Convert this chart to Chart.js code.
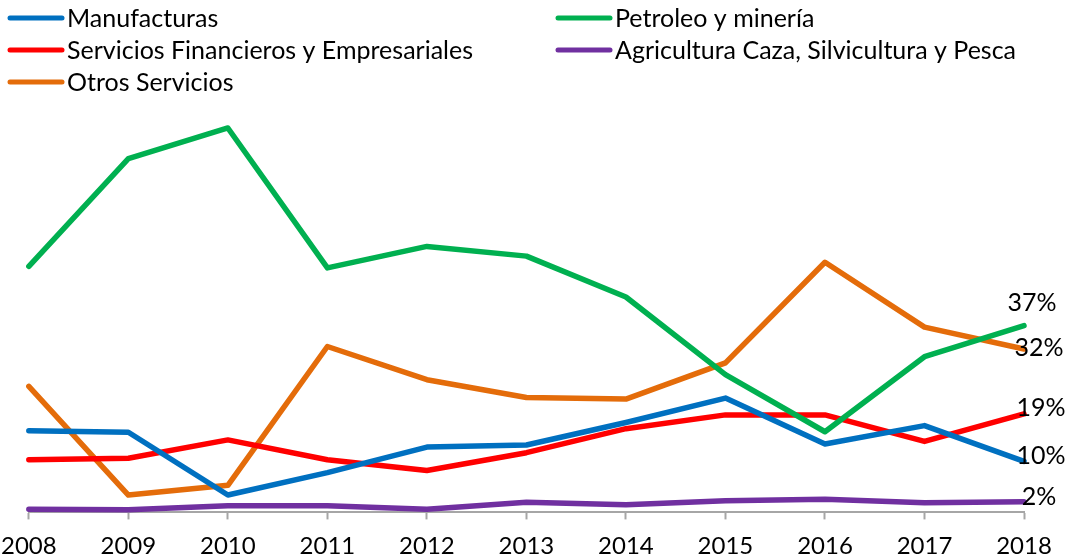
<!DOCTYPE html>
<html>
<head>
<meta charset="utf-8">
<script src="https://cdn.jsdelivr.net/npm/chart.js@4.4.1/dist/chart.umd.min.js"></script>
<style>
    html, body { margin: 0; padding: 0; background: #fff; }
</style>
</head>
<body>
<canvas id="myChart" width="1067" height="560"></canvas>
<script>
const years = ['2008', '2009', '2010', '2011', '2012', '2013', '2014', '2015', '2016', '2017', '2018']

// participación (%) por sector
const manufacturas = [16.0, 15.7, 3.4, 7.8, 12.8, 13.2, 17.6, 22.4, 13.4, 17.0, 10.0]
const petroleoMineria = [48.2, 69.3, 75.3, 47.9, 52.1, 50.2, 42.2, 27.0, 15.8, 30.5, 36.6]
const serviciosFinancieros = [10.3, 10.6, 14.2, 10.3, 8.2, 11.7, 16.4, 19.1, 19.1, 13.9, 19.3]
const agricultura = [0.6, 0.5, 1.3, 1.3, 0.6, 2.0, 1.5, 2.3, 2.6, 1.9, 2.1]
const otrosServicios = [24.7, 3.4, 5.3, 32.5, 26.0, 22.5, 22.2, 29.3, 49.0, 36.3, 32.0]

const FONT_FAMILY = 'Lato, "Open Sans", sans-serif'
const FONT_SIZE = 25

// small nudges for the end labels, same order as the datasets
const labelDx = [17, 8, 17, 15, 15]
const labelDy = [-5, -23, -6, -5, -1]

const columnLegend = {
    id: 'columnLegend',
    afterDraw: (chart) => {
        const ctx = chart.ctx
        const columns = [10, 558]
        ctx.save()
        ctx.font = `${FONT_SIZE}px ${FONT_FAMILY}`
        ctx.textBaseline = 'middle'
        ctx.textAlign = 'left'
        chart.data.datasets.forEach((ds, i) => {
            const x = columns[i % 2]
            const y = 18 + Math.floor(i / 2) * 32
            ctx.strokeStyle = ds.borderColor
            ctx.lineWidth = 5
            ctx.lineCap = 'round'
            ctx.beginPath()
            ctx.moveTo(x, y)
            ctx.lineTo(x + 52, y)
            ctx.stroke()
            ctx.fillStyle = '#000'
            ctx.fillText(ds.label, x + 57, y + 1)
        })
        ctx.restore()
    }
}

const endLabels = {
    id: 'endLabels',
    afterDatasetsDraw: (chart) => {
        const ctx = chart.ctx
        ctx.save()
        ctx.font = `${FONT_SIZE}px ${FONT_FAMILY}`
        ctx.textBaseline = 'middle'
        ctx.textAlign = 'center'
        ctx.fillStyle = '#000'
        chart.data.datasets.forEach((ds, i) => {
            const meta = chart.getDatasetMeta(i)
            const last = meta.data[meta.data.length - 1]
            const value = ds.data[ds.data.length - 1]
            ctx.fillText(Math.round(value) + '%', last.x + labelDx[i], last.y + labelDy[i])
        })
        ctx.restore()
    }
}

const buildDataset = (label, data, color) => ({
    label: label,
    data: data,
    borderColor: color,
    backgroundColor: color,
    borderWidth: 5.5,
    pointRadius: 0,
    pointHoverRadius: 0,
    tension: 0,
    borderJoinStyle: 'round',
    borderCapStyle: 'round',
    clip: false
})

const ctx = document.getElementById('myChart').getContext('2d')
const myChart = new Chart(ctx, {
    type: 'line',
    data: {
        labels: years,
        datasets: [
            buildDataset('Manufacturas', manufacturas, '#0070c0'),
            buildDataset('Petroleo y minería', petroleoMineria, '#00b050'),
            buildDataset('Servicios Financieros y Empresariales', serviciosFinancieros, '#ff0000'),
            buildDataset('Agricultura Caza, Silvicultura y Pesca', agricultura, '#7030a0'),
            buildDataset('Otros Servicios', otrosServicios, '#e46c0a')
        ]
    },
    options: {
        responsive: false,
        animation: false,
        layout: {
            // tick box is taller than the room left under the axis, hence the negative bottom
            padding: { top: 104, right: 43, bottom: -13, left: 0 }
        },
        plugins: {
            legend: { display: false },
            tooltip: { enabled: false }
        },
        scales: {
            x: {
                offset: false,
                grid: {
                    drawOnChartArea: false,
                    drawTicks: true,
                    tickLength: 7,
                    tickWidth: 2,
                    tickColor: '#a6a6a6'
                },
                border: { display: true, color: '#a6a6a6', width: 2 },
                ticks: {
                    color: '#000',
                    padding: 1,
                    maxRotation: 0,
                    autoSkip: false,
                    font: { family: FONT_FAMILY, size: 24, lineHeight: 2.15 }
                }
            },
            y: {
                display: false,
                min: 0,
                max: 80
            }
        }
    },
    plugins: [columnLegend, endLabels]
})
</script>
</body>
</html>
